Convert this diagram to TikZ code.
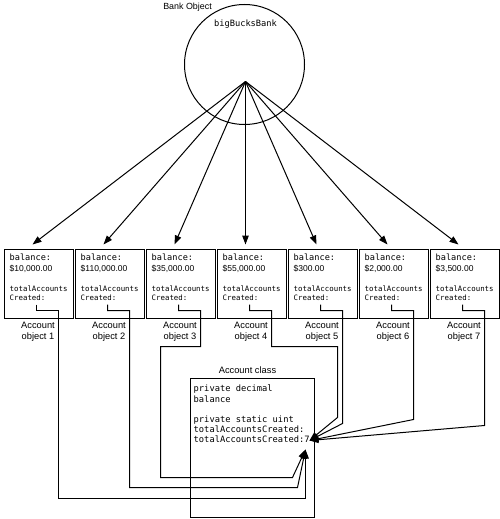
\documentclass[tikz,border=0pt]{standalone}
\usepackage{fontspec}
\setmainfont{Liberation Sans}
\setmonofont{DejaVu Sans Mono}
\usetikzlibrary{arrows.meta,calc}
\begin{document}
\begin{tikzpicture}[x=1pt,y=-1pt,
  arr/.style={line width=1pt,-{Triangle[length=9pt,width=6.5pt]}},
  acct/.style={draw,line width=1pt,minimum width=69pt,minimum height=69pt,inner sep=0,anchor=north west},
  btxt/.style={font=\fontsize{8.6}{10}\ttfamily,inner sep=0,anchor=base west},
  mtxt/.style={font=\fontsize{7.4}{9}\ttfamily,inner sep=0,anchor=base west},
  ctxt/.style={font=\fontsize{8.75}{10}\ttfamily,inner sep=0,anchor=base west},
  stxt/.style={font=\fontsize{8.5}{10}\selectfont,inner sep=0,anchor=base west},
  lbl/.style={font=\fontsize{9.3}{11}\selectfont,align=center,inner sep=0}]
\useasboundingbox (0,0) rectangle (500,519);
\begin{scope}[shift={(0.5,0.5)}]
% Bank object
\node[circle,draw,line width=1pt,minimum size=120pt,inner sep=0] (bank) at (244,64) {};
\node[font=\fontsize{8.9}{10}\selectfont,inner sep=0] (banklbl) at (187,7) {Bank Object};
\node[font=\fontsize{8.7}{10}\ttfamily,inner sep=0] (bankname) at (245,24) {bigBucksBank};
\coordinate (src) at (245,81);

% Account objects
\foreach \i/\amt in {1/{\$10,000.00},2/{\$110,000.00},3/{\$35,000.00},4/{\$55,000.00},5/{\$300.00},6/{\$2,000.00},7/{\$3,500.00}}{
  \pgfmathsetmacro\L{3+71*(\i-1)}
  \node[acct] (b\i) at (\L,248) {};
  \node[btxt] (bal\i) at (\L+6,260) {balance:};
  \node[stxt] (amt\i) at (\L+6,270.5) {\amt};
  \node[mtxt] (tot\i) at (\L+6,291) {totalAccounts};
  \node[mtxt] (cre\i) at (\L+6,299.5) {Created:};
  \node[lbl] (lab\i) at (\L+34.5,331) {Account\\object \i};
  \draw[arr] (src) -- ($(b\i.north west)+(29,-4)$);
  \coordinate (s\i) at ($(b\i.north west)+(33,56)$);
  \coordinate (r\i) at ($(b\i.north west)+(55,62)$);
}

% Account class
\node[draw,line width=1pt,minimum width=124pt,minimum height=139pt,anchor=north west,inner sep=0] (cls) at (189,377) {};
\node[lbl] (clslbl) at (247,370) {Account class};
\node[ctxt] (c1) at (193,391) {private decimal};
\node[ctxt] (c2) at (193,401.5) {balance};
\node[ctxt] (c3) at (193,422) {private static uint};
\node[ctxt] (c4) at (193,432) {totalAccountsCreated:};
\node[ctxt] (c5) at (193,442) {totalAccountsCreated:7};

\coordinate (tipA) at (309,440);
\coordinate (tipB) at (305,449);

% connectors to the static field
\draw[arr] (s1) |- (r1) |- (305,498) -- (tipB);
\draw[arr] (s2) |- (r2) |- (297,487) -- (tipB);
\draw[arr] (s3) |- (r3) |- (160,346) |- (292,477) -- (tipB);
\draw[arr] (s4) |- (r4) |- (337,346) -- ++(0,71) -- (tipA);
\draw[arr] (s5) |- (r5) -- ++(0,113) -- (tipA);
\draw[arr] (s6) |- (r6) -- ++(0,109) -- (tipA);
\draw[arr] (s7) |- (r7) -- ++(0,115) -- (tipA);
\end{scope}
\end{tikzpicture}
\end{document}
